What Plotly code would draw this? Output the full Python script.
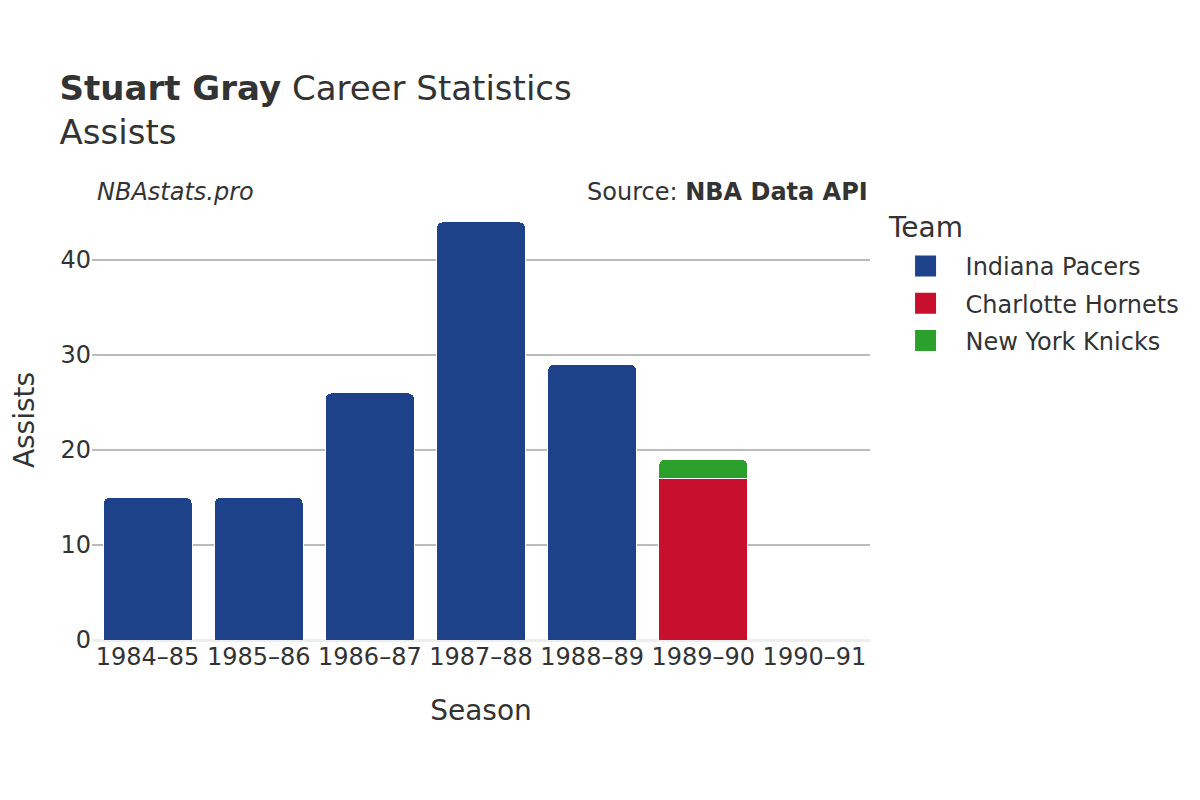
import plotly.graph_objects as go

seasons = ["1984–85", "1985–86", "1986–87", "1987–88", "1988–89", "1989–90", "1990–91"]
teams = ["Indiana Pacers", "Charlotte Hornets", "New York Knicks"]
colors = ["#1d428a", "#c8102e", "#2ca02c"]
pacers = [15, 15, 26, 44, 29, None, None]
hornets = [None, None, None, None, None, 17, None]
knicks = [None, None, None, None, None, 2, 0]
values = [pacers, hornets, knicks]

fig = go.Figure()
for name, col, vals in zip(teams, colors, values):
    fig.add_trace(go.Bar(x=seasons, y=vals, name=name, marker_color=col,
                         marker_line_color="white", marker_line_width=1,
                         showlegend=False))
# legend entries with larger square symbols
for name, col in zip(teams, colors):
    fig.add_trace(go.Scatter(x=[None], y=[None], mode="markers", name=name,
                             legendgroup=name,
                             marker=dict(symbol="square", size=16, color=col,
                                         line=dict(color=col, width=5))))

font = "DejaVu Sans"
fig.update_layout(
    barmode="stack",
    barcornerradius=6,
    width=1200, height=800,
    plot_bgcolor="white", paper_bgcolor="white",
    font=dict(family=font, color="#333333", size=24),
    margin=dict(l=84, r=338, t=192, b=168, autoexpand=False),
    title=dict(text="<b>Stuart Gray</b> Career Statistics<br>Assists",
               x=0.043, xanchor="left", y=0.885, yanchor="top",
               font=dict(size=34, color="#333333")),
    legend=dict(font=dict(size=24),
                x=1.02, y=0.9, xanchor="left", yanchor="top",
                traceorder="grouped", itemwidth=70, tracegroupgap=3),
    xaxis=dict(title=dict(text="Season", font=dict(size=28), standoff=30),
               tickfont=dict(size=24), showgrid=False, showline=False,
               automargin=False),
    yaxis=dict(title=dict(text="Assists", font=dict(size=28), standoff=25),
               tickfont=dict(size=24), showgrid=True, gridcolor="#bbbbbb", gridwidth=1.5,
               zeroline=True, zerolinecolor="#eeeeee", zerolinewidth=3,
               dtick=10, range=[0, 46.3], automargin=False),
    bargap=0.2,
    annotations=[
        dict(text="<i>NBAstats.pro</i>", x=0, y=1.0, xref="paper", yref="paper",
             xanchor="left", yanchor="bottom", showarrow=False, yshift=-8, xshift=3,
             font=dict(size=24, color="#333333")),
        dict(text="Source: <b>NBA Data API</b>", x=1, y=1.0, xref="paper", yref="paper",
             xanchor="right", yanchor="bottom", showarrow=False, yshift=-8,
             font=dict(size=24, color="#333333")),
        dict(text="Team", x=1.0205, y=0.9386, xref="paper", yref="paper",
             xanchor="left", yanchor="middle", showarrow=False,
             font=dict(size=28, color="#333333")),
    ],
)
fig.write_html("out.html")
